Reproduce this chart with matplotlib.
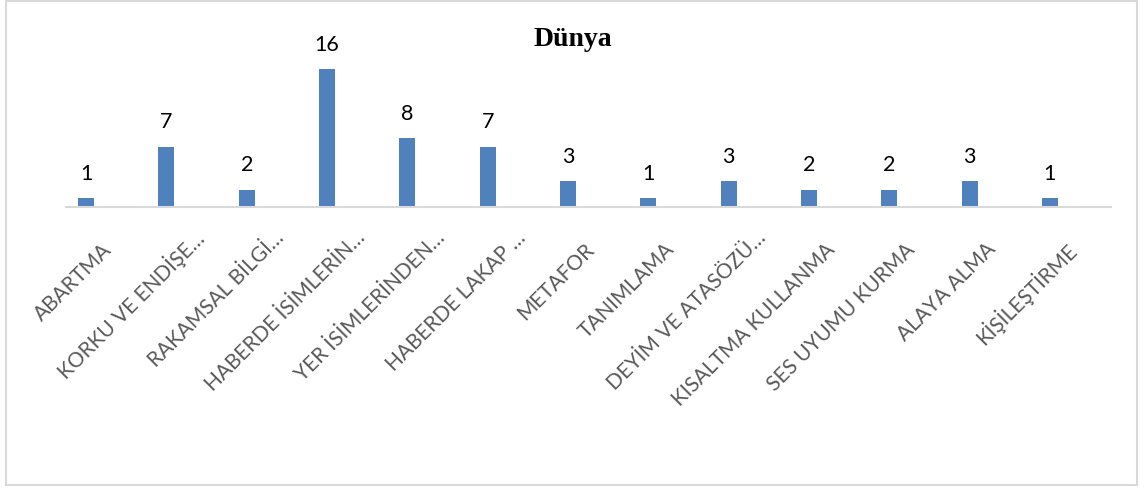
import matplotlib
matplotlib.use("Agg")
import matplotlib.pyplot as plt
import matplotlib.transforms as mtransforms
from matplotlib.patches import Rectangle

categories = ["ABARTMA", "KORKU VE ENDİŞE…", "RAKAMSAL BİLGİ…", "HABERDE İSİMLERİN…",
              "YER İSİMLERİNDEN…", "HABERDE LAKAP …", "METAFOR", "TANIMLAMA",
              "DEYİM VE ATASÖZÜ…", "KISALTMA KULLANMA", "SES UYUMU KURMA",
              "ALAYA ALMA", "KİŞİLEŞTİRME"]
values = [1, 7, 2, 16, 8, 7, 3, 1, 3, 2, 2, 3, 1]
title = "Dünya"

W, H = 1144, 488
fig = plt.figure(figsize=(W / 100, H / 100), dpi=100)

# plot area in pixels (top-left origin)
left, right, base, top = 66, 1111, 207, 40
ax = fig.add_axes([left / W, 1 - base / H, (right - left) / W, (base - top) / H])
px_per_unit = 138 / 16
ax.set_ylim(0, (base - top) / px_per_unit)
ax.set_xlim(-0.25, 12.76)

x = range(len(values))
ax.bar(x, values, width=0.2, color="#4F81BD", zorder=2)

for xi, v in zip(x, values):
    ax.annotate(str(v), (xi, v), xytext=(0, 13.3), textcoords="offset points",
                ha="center", va="baseline", fontsize=15.5, family="Lato", color="black")

for s in ["top", "right", "left"]:
    ax.spines[s].set_visible(False)
ax.spines["bottom"].set_color("#D9D9D9")
ax.spines["bottom"].set_linewidth(1.5)
ax.set_yticks([])
ax.set_xticks(list(x))
ax.set_xticklabels(categories, rotation=45, rotation_mode="anchor", ha="right", va="center",
                   fontsize=15, family="Lato", color="#595959")
ax.tick_params(axis="x", length=0, pad=0)

for lab in ax.get_xticklabels():
    dx, dy = 22.5, -39.5
    if lab.get_text().endswith("…"):
        dx, dy = dx + 12, dy + 12
    lab.set_transform(lab.get_transform() +
                      mtransforms.ScaledTranslation(dx / 100, dy / 100, fig.dpi_scale_trans))

fig.text(572.5 / W, 1 - 46 / H, title, ha="center", va="baseline",
         family="Liberation Serif", fontweight="bold", fontsize=20)

fig.patches.append(Rectangle((6 / W, 1 - 485 / H), 1131 / W, 484 / H,
                             transform=fig.transFigure, fill=False,
                             edgecolor="#D9D9D9", linewidth=1.5))

fig.savefig("out.png", dpi=100)
